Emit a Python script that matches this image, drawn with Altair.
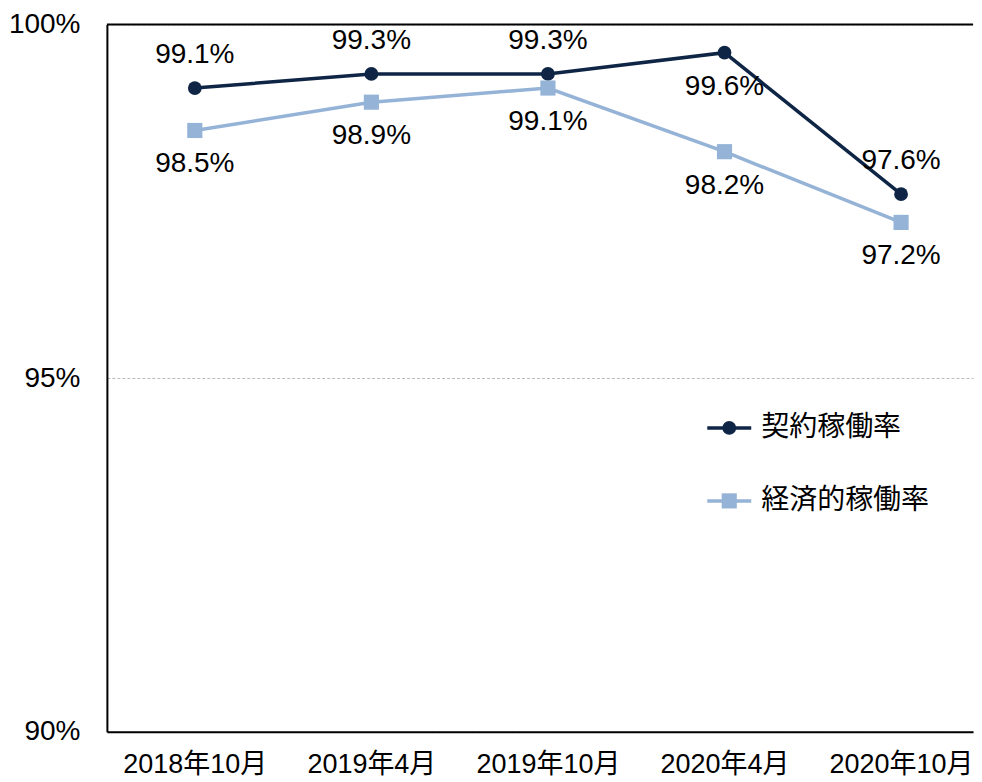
import altair as alt
import pandas as pd

# ---- data ----
periods = ["2018年10月", "2019年4月", "2019年10月", "2020年4月", "2020年10月"]
series_names = ["契約稼働率", "経済的稼働率"]
contract_rate = [99.1, 99.3, 99.3, 99.6, 97.6]
economic_rate = [98.5, 98.9, 99.1, 98.2, 97.2]
y_ticks = [90, 95, 100]

# ---- styling ----
colors = ["#0f2545", "#95b3d7"]
shapes = ["circle", "square"]
sizes = [190, 230]
label_below = [[False, False, False, True, False], [True, True, True, True, True]]
FONT = "Liberation Sans, Arial, Noto Sans CJK JP"
FS = 28
W, H = 867, 708

rows = []
for s_idx, (name, vals) in enumerate(zip(series_names, [contract_rate, economic_rate])):
    for i, (p, v) in enumerate(zip(periods, vals)):
        rows.append({"period": p, "series": name, "value": v,
                     "label": f"{v:.1f}%", "below": label_below[s_idx][i]})
df = pd.DataFrame(rows)

x_enc = alt.X("period:N", sort=periods,
              scale=alt.Scale(type="point", padding=0.4526, align=0.55),
              axis=alt.Axis(title=None, labelAngle=0, ticks=False, domain=True,
                            domainColor="#000000", domainWidth=2,
                            labelFont=FONT, labelFontSize=27, labelColor="#000000",
                            labelPadding=20, grid=False))
y_enc = alt.Y("value:Q", scale=alt.Scale(domain=[90, 100], nice=False, zero=False),
              axis=alt.Axis(title=None, values=y_ticks,
                            labelExpr="datum.value + '%'",
                            ticks=False, domain=True, domainColor="#000000", domainWidth=2,
                            labelFont=FONT, labelFontSize=FS, labelColor="#000000",
                            labelPadding=27, minExtent=99, maxExtent=99,
                            grid=True, gridColor="#bbbbbb", gridDash=[3, 2], gridWidth=1))
color_enc = alt.Color("series:N", scale=alt.Scale(domain=series_names, range=colors), legend=None)

base = alt.Chart(df)

lines = base.mark_line(strokeWidth=3.5).encode(x=x_enc, y=y_enc, color=color_enc,
                                               detail="series:N")

points = []
for name, col, shp, sz in zip(series_names, colors, shapes, sizes):
    points.append(
        base.transform_filter(alt.datum.series == name)
        .mark_point(filled=True, opacity=1, shape=shp, size=sz, color=col)
        .encode(x=x_enc, y=y_enc)
    )

labels_above = base.transform_filter(alt.datum.below == False).mark_text(
    font=FONT, fontSize=FS, color="#000000", dy=-33, baseline="middle"
).encode(x=x_enc, y=y_enc, text="label:N")
labels_below = base.transform_filter(alt.datum.below == True).mark_text(
    font=FONT, fontSize=FS, color="#000000", dy=34, baseline="middle"
).encode(x=x_enc, y=y_enc, text="label:N")

top_border = alt.Chart(pd.DataFrame({"a": [0]})).mark_rule(color="#000000", strokeWidth=2).encode(
    y=alt.value(0), x=alt.value(0), x2=alt.value(W)
)

legend_layers = []
for i, (name, col, shp, sz) in enumerate(zip(series_names, colors, shapes, sizes)):
    ly = 404 + 73 * i
    ldf = pd.DataFrame({"name": [name]})
    legend_layers.append(alt.Chart(ldf).mark_rule(color=col, strokeWidth=3.5).encode(
        x=alt.value(601), x2=alt.value(645), y=alt.value(ly)))
    legend_layers.append(alt.Chart(ldf).mark_point(filled=True, opacity=1, shape=shp, size=sz,
                                                   color=col).encode(
        x=alt.value(623), y=alt.value(ly)))
    legend_layers.append(alt.Chart(ldf).mark_text(font="Noto Sans CJK JP", fontSize=28,
                                                  color="#000000", align="left",
                                                  baseline="middle").encode(
        x=alt.value(655), y=alt.value(ly), text="name:N"))

chart = alt.layer(lines, *points, labels_above, labels_below, top_border, *legend_layers).properties(
    width=W, height=H, padding={"left": 0, "top": 2, "right": 0, "bottom": 0}
).configure(background="#ffffff").configure_view(strokeWidth=0, stroke="transparent")

chart.save("out.html", embed_options={"renderer": "svg", "actions": False})
